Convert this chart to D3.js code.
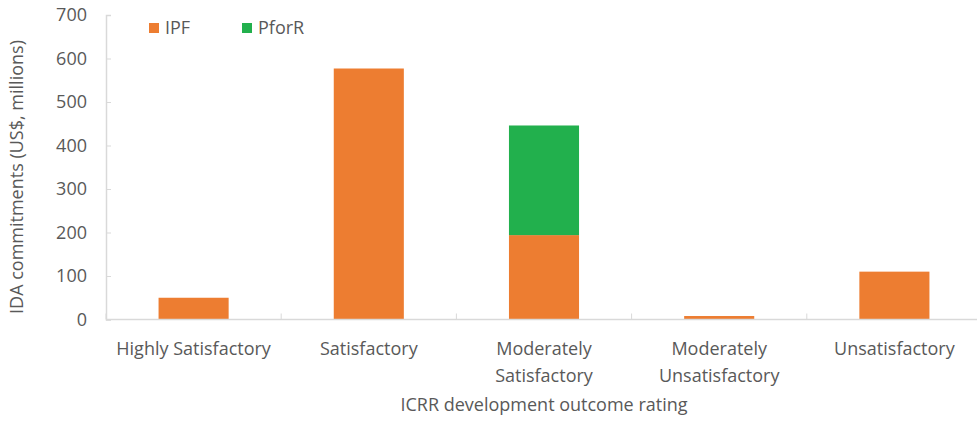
<!DOCTYPE html>
<html>
<head>
<meta charset="utf-8">
<script src="https://cdn.jsdelivr.net/npm/d3@7"></script>
<style>
  html, body { margin: 0; padding: 0; background: #fff; }
  svg { display: block; }
  text { font-family: "Open Sans", "Noto Sans", sans-serif; fill: #595959; }
</style>
</head>
<body>
<svg id="chart" width="977" height="421"></svg>
<script>
// Development outcome rating categories (label lines)
const categories = [
  ["Highly Satisfactory"],
  ["Satisfactory"],
  ["Moderately", "Satisfactory"],
  ["Moderately", "Unsatisfactory"],
  ["Unsatisfactory"]
];
const seriesNames = ["IPF", "PforR"];
const ipfValues = [50, 577, 194, 8, 110];
const pforrValues = [0, 0, 252, 0, 0];
const yTicks = [0, 100, 200, 300, 400, 500, 600, 700];
const colors = { IPF: "#ED7D31", PforR: "#22B04D" };

const svg = d3.select("#chart");
const plotLeft = 106, plotRight = 982, plotTop = 15, plotBottom = 319.5;
const fontSize = 18;

const keys = categories.map(c => c.join(" "));
const rows = keys.map((k, i) => ({ cat: k, IPF: ipfValues[i], PforR: pforrValues[i] }));

const x = d3.scaleBand().domain(keys).range([plotLeft, plotRight]).paddingInner(0.6).paddingOuter(0.3);
const y = d3.scaleLinear().domain([0, 700]).range([plotBottom, plotTop]);
const step = x.step();

// Bars
const stacked = d3.stack().keys(seriesNames)(rows);
svg.append("g").selectAll("g").data(stacked).join("g")
  .attr("fill", s => colors[s.key])
  .selectAll("rect").data(s => s.filter(d => d[1] - d[0] > 0))
  .join("rect")
  .attr("x", d => x(d.data.cat))
  .attr("width", x.bandwidth())
  .attr("y", d => y(d[1]))
  .attr("height", d => y(d[0]) - y(d[1]));

// Y axis
const yAxis = svg.append("g").attr("transform", `translate(${plotLeft},0)`)
  .call(d3.axisRight(y).tickValues(yTicks).tickSize(5).tickFormat(""));
yAxis.select(".domain").attr("stroke", "#d9d9d9").attr("stroke-width", 1.5);
yAxis.selectAll(".tick line").attr("stroke", "#d9d9d9");
svg.append("g").selectAll("text").data(yTicks).join("text")
  .attr("x", 87).attr("y", d => y(d)).attr("dy", "0.36em")
  .attr("text-anchor", "end").attr("font-size", fontSize)
  .text(d => d);

// X axis baseline and boundary ticks
svg.append("line").attr("x1", plotLeft).attr("x2", 977)
  .attr("y1", y(0)).attr("y2", y(0))
  .attr("stroke", "#d9d9d9").attr("stroke-width", 1.5);
const boundaries = d3.range(keys.length + 1).map(i => plotLeft + i * step);
svg.append("g").selectAll("line").data(boundaries).join("line")
  .attr("x1", d => d).attr("x2", d => d)
  .attr("y1", y(0)).attr("y2", y(0) - 6)
  .attr("stroke", "#d9d9d9");

// Category labels
const lab = svg.append("g").selectAll("text").data(categories).join("text")
  .attr("text-anchor", "middle").attr("font-size", fontSize)
  .attr("x", (c, i) => x(keys[i]) + x.bandwidth() / 2)
  .attr("y", 355);
lab.selectAll("tspan").data(c => c).join("tspan")
  .attr("x", function () { return this.parentNode.getAttribute("x"); })
  .attr("dy", (t, j) => j === 0 ? 0 : 26.5)
  .text(t => t);

// Axis titles
svg.append("text").attr("x", (plotLeft + plotRight) / 2).attr("y", 411)
  .attr("text-anchor", "middle").attr("font-size", fontSize)
  .text("ICRR development outcome rating");
svg.append("text")
  .attr("transform", "translate(23,177) rotate(-90)")
  .attr("text-anchor", "middle").attr("font-size", fontSize)
  .text("IDA commitments (US$, millions)");

// Legend
const legendPos = [149, 242];
const lg = svg.append("g").selectAll("g").data(seriesNames).join("g")
  .attr("transform", (d, i) => `translate(${legendPos[i]},23)`);
lg.append("rect").attr("width", 10).attr("height", 10).attr("fill", d => colors[d]);
lg.append("text").attr("x", 16).attr("y", 11).attr("font-size", fontSize).text(d => d);
</script>
</body>
</html>
